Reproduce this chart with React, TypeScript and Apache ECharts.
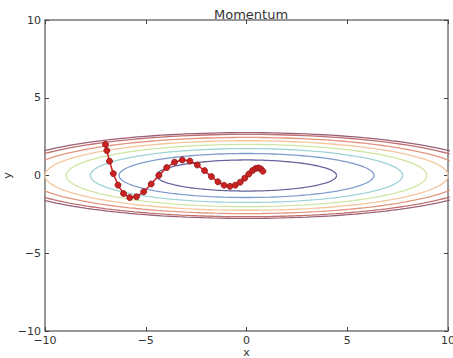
import React, { useEffect, useRef } from "react";
import * as echarts from "echarts";

const title = "Momentum";
const xTicks = [-10, -5, 0, 5, 10];
const yTicks = [-10, -5, 0, 5, 10];
const contourLevels = [1, 2, 3, 4, 5, 6, 7, 7.6];
const contourColors = ["#65659c", "#7f9ccd", "#9fd3d6", "#cfe6a2", "#f3c69c", "#e3957f", "#bf6f6f", "#9b6079"];
const pathX = [-7, -6.93, -6.798, -6.611, -6.376, -6.101, -5.793, -5.458, -5.101, -4.729, -4.348, -3.96, -3.572, -3.187, -2.809, -2.44, -2.084, -1.743, -1.418, -1.112, -0.825, -0.558, -0.313, -0.089, 0.113, 0.295, 0.455, 0.594, 0.714, 0.814];
const pathY = [2, 1.6, 0.92, 0.124, -0.617, -1.161, -1.418, -1.366, -1.046, -0.548, 0.009, 0.509, 0.857, 0.998, 0.927, 0.676, 0.316, -0.071, -0.406, -0.626, -0.699, -0.624, -0.433, -0.174, 0.094, 0.316, 0.453, 0.486, 0.418, 0.273];

const FONT = "DejaVu Sans";
const fmt = (v: number) => String(v).replace("-", "\u2212");

function ellipse(c: number): number[][] {
  const pts: number[][] = [];
  const a = Math.sqrt(20 * c);
  const b = Math.sqrt(c);
  for (let i = 0; i <= 360; i += 2) {
    const t = (i * Math.PI) / 180;
    pts.push([a * Math.cos(t), b * Math.sin(t)]);
  }
  return pts;
}

export default function App() {
  const ref = useRef<HTMLDivElement>(null);
  useEffect(() => {
    if (!ref.current) return;
    const chart = echarts.init(ref.current, null, { renderer: "svg" });
    const tickStyle = { show: true, inside: true, length: 4, lineStyle: { color: "#444", width: 1 } };
    const noLine = { show: false, onZero: false };
    const contourSeries = contourLevels.map((c, i) => ({
      type: "line",
      data: ellipse(c),
      showSymbol: false,
      symbol: "none",
      clip: true,
      lineStyle: { color: contourColors[i], width: 1.3 },
      z: 2,
    }));
    chart.setOption({
      animation: false,
      backgroundColor: "#fff",
      title: {
        text: title,
        left: 246,
        textAlign: "center",
        top: 3,
        textStyle: { fontFamily: FONT, fontSize: 13, fontWeight: "normal", color: "#333" },
      },
      grid: {
        left: 45,
        top: 20,
        width: 403,
        height: 311,
        show: true,
        borderColor: "#777",
        borderWidth: 1.5,
        backgroundColor: "transparent",
        containLabel: false,
        outerBoundsMode: "none",
      },
      xAxis: [
        {
          type: "value",
          min: xTicks[0],
          max: xTicks[xTicks.length - 1],
          interval: 5,
          name: "x",
          nameLocation: "middle",
          nameGap: 16,
          nameMoveOverlap: false,
          nameTextStyle: { fontFamily: FONT, fontSize: 11, color: "#333" },
          axisLine: noLine,
          axisTick: tickStyle,
          splitLine: { show: false },
          axisLabel: { fontFamily: FONT, fontSize: 11, color: "#333", margin: 4, formatter: fmt },
        },
        {
          type: "value",
          position: "top",
          min: xTicks[0],
          max: xTicks[xTicks.length - 1],
          interval: 5,
          axisLine: noLine,
          axisTick: tickStyle,
          splitLine: { show: false },
          axisLabel: { show: false },
        },
      ],
      yAxis: [
        {
          type: "value",
          min: yTicks[0],
          max: yTicks[yTicks.length - 1],
          interval: 5,
          name: "y",
          nameLocation: "middle",
          nameGap: 32,
          nameMoveOverlap: false,
          nameTextStyle: { fontFamily: FONT, fontSize: 11, color: "#333" },
          axisLine: noLine,
          axisTick: tickStyle,
          splitLine: { show: false },
          axisLabel: { fontFamily: FONT, fontSize: 11, color: "#333", margin: 4, formatter: fmt },
        },
        {
          type: "value",
          position: "right",
          min: yTicks[0],
          max: yTicks[yTicks.length - 1],
          interval: 5,
          axisLine: noLine,
          axisTick: tickStyle,
          splitLine: { show: false },
          axisLabel: { show: false },
        },
      ],
      series: [
        ...contourSeries,
        {
          type: "line",
          data: pathX.map((x, i) => [x, pathY[i]]),
          symbol: "circle",
          symbolSize: 6,
          showSymbol: true,
          clip: true,
          lineStyle: { color: "#d02020", width: 1.5 },
          itemStyle: { color: "#cc2222", borderColor: "#8a1515", borderWidth: 0.8 },
          z: 5,
        },
      ],
    });
    return () => chart.dispose();
  }, []);
  return <div ref={ref} style={{ width: 453, height: 358, position: "absolute", left: 0, top: 0 }} />;
}
